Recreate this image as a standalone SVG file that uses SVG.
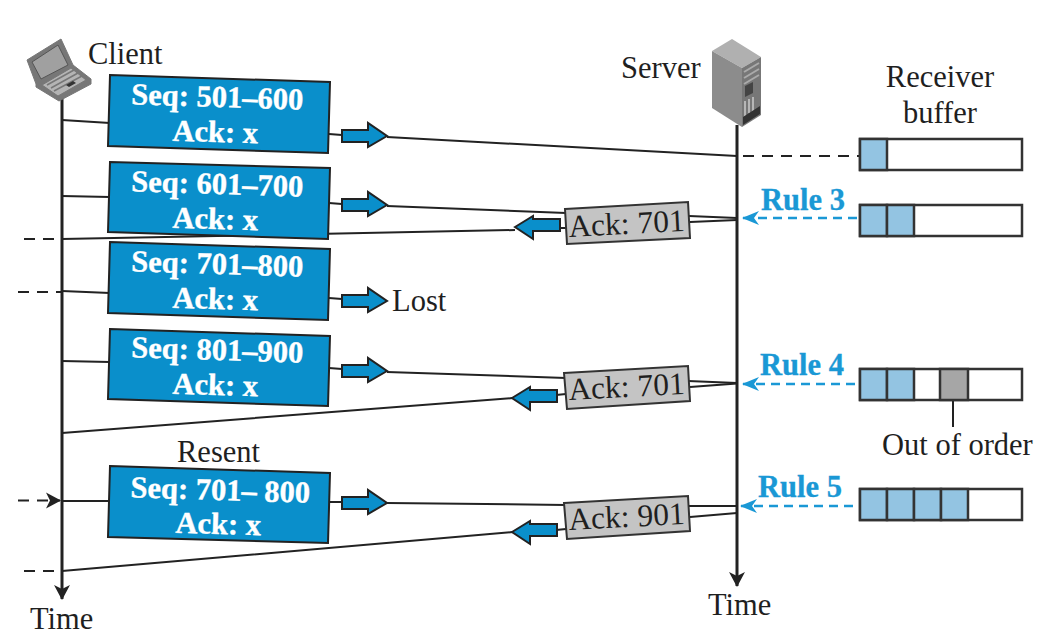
<svg xmlns="http://www.w3.org/2000/svg" xmlns:xlink="http://www.w3.org/1999/xlink" width="1044" height="641" viewBox="0 0 1044 641">
<style>
text{font-family:"Liberation Serif","Times New Roman",serif;font-size:30.500px;fill:#1f1f1f}
.s{fill:#fff;font-weight:bold;text-anchor:middle;stroke:#fff;stroke-width:.4px}
.a{text-anchor:middle;font-size:31.500px}
.r{fill:#1a98d5;font-weight:bold;stroke:#1a98d5;stroke-width:.3px}
.seg{fill:#0a8fcb;stroke:#222;stroke-width:2}
.ack{fill:#c4c4c4;stroke:#333;stroke-width:2}
.l{fill:none;stroke:#222;stroke-width:2}
.d{fill:none;stroke:#222;stroke-width:2;stroke-dasharray:11 8}
.t{fill:none;stroke:#222;stroke-width:3}
.rl{fill:none;stroke:#1a98d5;stroke-width:2.500;stroke-dasharray:9 6}
.b{fill:#fff;stroke:#333;stroke-width:2.500}
.f{fill:#93c4e2;stroke:#333;stroke-width:2.500}
.g{fill:#a6a6a6;stroke:#333;stroke-width:2.500}
.ba{fill:#0a8fcb;stroke:#222;stroke-width:2;stroke-linejoin:miter}
</style>
<defs>
<polygon id="ra" class="ba" points="0,-6 26,-6 26,-13 45,0 26,11 26,6 0,6"/>
<polygon id="la" class="ba" points="0,0 18,-11 18,-8 45,-8 45,4 18,4 18,12"/>
<marker id="tip" markerWidth="16" markerHeight="20" refX="14" refY="10" orient="auto" markerUnits="userSpaceOnUse"><path d="M0,2 L15,10 L0,18 L4,10 Z" fill="#222"/></marker>
<marker id="btip" markerWidth="20" markerHeight="16" refX="16" refY="8" orient="auto" markerUnits="userSpaceOnUse"><path d="M0,1 L17,8 L0,15 L5,8 Z" fill="#1a98d5"/></marker>
</defs>

<g id="connectors">
<path class="t" d="M62 97V599" marker-end="url(#tip)"/>
<path class="t" d="M737 125V586" marker-end="url(#tip)"/>
<path class="l" d="M62 120L110 123M329 134L342 135M387 137L737 156"/>
<path class="d" d="M743 156H860"/>
<path class="l" d="M62 196L110 197M329 203L342 204M387 206L566 213M689 216L737 218"/>
<path class="l" d="M737 220L690 222M566 228L560 228M515 230L62 239"/>
<path class="d" d="M24 239H62" stroke-dasharray="11 10"/>
<path class="d" d="M18 292H62" stroke-dasharray="7 8"/>
<path class="l" d="M62 291L110 293M329 298L342 299"/>
<path class="l" d="M62 361L110 362M329 368L342 369M387 372L566 378M688 381L737 383"/>
<path class="l" d="M737 383.500L690 387M566 394L556 395M513 398L62 433"/>
<path class="l" d="M62 501L110 501M329 502L342 502M387 503L566 505M688 506L737 506"/>
<path class="l" d="M737 513L690 517M566 529L556 530M513 532L62 571"/>
<path class="d" d="M18 500.500H60" stroke-dasharray="3 7 9 30" marker-end="url(#tip)"/>
<path class="d" d="M24 571H62" stroke-dasharray="11 10"/>
<path class="l" d="M953 400V427"/>
<path class="rl" d="M857 218H743" marker-end="url(#btip)"/>
<path class="rl" d="M855 384H743" marker-end="url(#btip)"/>
<path class="rl" d="M853 506H741" marker-end="url(#btip)"/>
<use xlink:href="#ra" href="#ra" x="342" y="136"/>
<use xlink:href="#ra" href="#ra" x="342" y="205"/>
<use xlink:href="#ra" href="#ra" x="342" y="301"/>
<use xlink:href="#ra" href="#ra" x="342" y="371"/>
<use xlink:href="#ra" href="#ra" x="342" y="503"/>
<use xlink:href="#la" href="#la" x="515" y="227"/>
<use xlink:href="#la" href="#la" x="512" y="398"/>
<use xlink:href="#la" href="#la" x="512" y="532"/>
</g>

<g id="client">
<polygon points="27,60 61,39 73,65 91,79 91,84 59,101 36,87 36,84" fill="#777" stroke="#777"/>
<polygon points="32,62 58,45 68,65 41,79" fill="#a0a0a0" stroke="#555"/>
<polygon points="42,85 71,68 86,80 58,96" fill="#b4b4b4" stroke="#777"/>
<path d="M47 85L74 70M51 88L78 73M54 91L82 76" stroke="#777" stroke-width="1.500" fill="none"/>
<polygon points="66,85 73,81 76,83 69,87" fill="#333"/>
<text x="88" y="64">Client</text>
</g>
<g id="server">
<polygon points="732,39 712,51 742,68 761,57" fill="#b0b0b0"/>
<polygon points="712,51 742,68 742,127 712,108" fill="#8c8c8c"/>
<polygon points="742,68 761,57 761,115 742,127" fill="#777"/>
<path d="M744 72L759 63M744 78L759 69M744 84L759 75" stroke="#aaa" stroke-width="2" fill="none"/>
<polygon points="745,86 753,82 753,93 745,97" fill="#444"/>
<path d="M745 101V116M749 99V113M753 97V111" stroke="#ccc" stroke-width="1.500" fill="none"/>
<polygon points="743,117 760,106 760,114 743,125" fill="#333"/>
<text x="621" y="78">Server</text>
</g>
<g id="receiver-label">
<text x="940" y="87" text-anchor="middle">Receiver</text>
<text x="940" y="123" text-anchor="middle">buffer</text>
</g>

<g id="seg1"><polygon class="seg" points="110,75 330,82 328,153 108,146"/>
<text class="s" transform="translate(217,107) rotate(1.800)">Seq: 501–600</text>
<text class="s" transform="translate(215,142) rotate(1.800)">Ack: x</text></g>
<g id="seg2"><polygon class="seg" points="110,162 330,168 328,239 108,232"/>
<text class="s" transform="translate(217,194) rotate(1.800)">Seq: 601–700</text>
<text class="s" transform="translate(215,229) rotate(1.800)">Ack: x</text></g>
<g id="seg3"><polygon class="seg" points="110,242 330,249 328,320 108,313"/>
<text class="s" transform="translate(217,274) rotate(1.800)">Seq: 701–800</text>
<text class="s" transform="translate(215,309) rotate(1.800)">Ack: x</text></g>
<g id="seg4"><polygon class="seg" points="110,329 330,336 328,406 108,399"/>
<text class="s" transform="translate(217,360) rotate(1.800)">Seq: 801–900</text>
<text class="s" transform="translate(215,395) rotate(1.800)">Ack: x</text></g>
<g id="seg5"><polygon class="seg" points="110,466 330,473 328,543 108,537"/>
<text class="s" transform="translate(220,500) rotate(1.800)">Seq: 701– 800</text>
<text class="s" transform="translate(218,534) rotate(1.800)">Ack: x</text></g>

<g id="lost"><text x="392" y="311">Lost</text></g>
<g id="resent"><text x="177" y="462">Resent</text></g>

<g id="ack1"><polygon class="ack" points="565,209 688,202 690,238 567,244"/>
<text class="a" transform="translate(627,234) rotate(-3)">Ack: 701</text></g>
<g id="ack2"><polygon class="ack" points="564,373 688,366 690,401 567,409"/>
<text class="a" transform="translate(627,397) rotate(-3)">Ack: 701</text></g>
<g id="ack3"><polygon class="ack" points="564,503 688,496 690,531 567,539"/>
<text class="a" transform="translate(627,527) rotate(-3)">Ack: 901</text></g>

<g id="rule3"><text class="r" x="761" y="210">Rule 3</text></g>
<g id="rule4"><text class="r" x="760" y="375">Rule 4</text></g>
<g id="rule5"><text class="r" x="758" y="497">Rule 5</text></g>

<g id="buffer1"><rect class="b" x="860" y="139" width="162" height="31"/><rect class="f" x="860" y="139" width="27" height="31"/></g>
<g id="buffer2"><rect class="b" x="860" y="205" width="162" height="31"/><rect class="f" x="860" y="205" width="27" height="31"/><rect class="f" x="887" y="205" width="27" height="31"/></g>
<g id="buffer3"><rect class="b" x="860" y="369" width="162" height="31"/><rect class="f" x="860" y="369" width="27" height="31"/><rect class="f" x="887" y="369" width="27" height="31"/><rect class="g" x="940" y="369" width="28" height="31"/></g>
<g id="buffer4"><rect class="b" x="860" y="489" width="162" height="31"/><rect class="f" x="860" y="489" width="27" height="31"/><rect class="f" x="887" y="489" width="27" height="31"/><rect class="f" x="914" y="489" width="27" height="31"/><rect class="f" x="941" y="489" width="27" height="31"/></g>

<g id="labels">
<text x="882" y="455">Out of order</text>
<text x="30" y="629">Time</text>
<text x="708" y="615">Time</text>
</g>
</svg>
